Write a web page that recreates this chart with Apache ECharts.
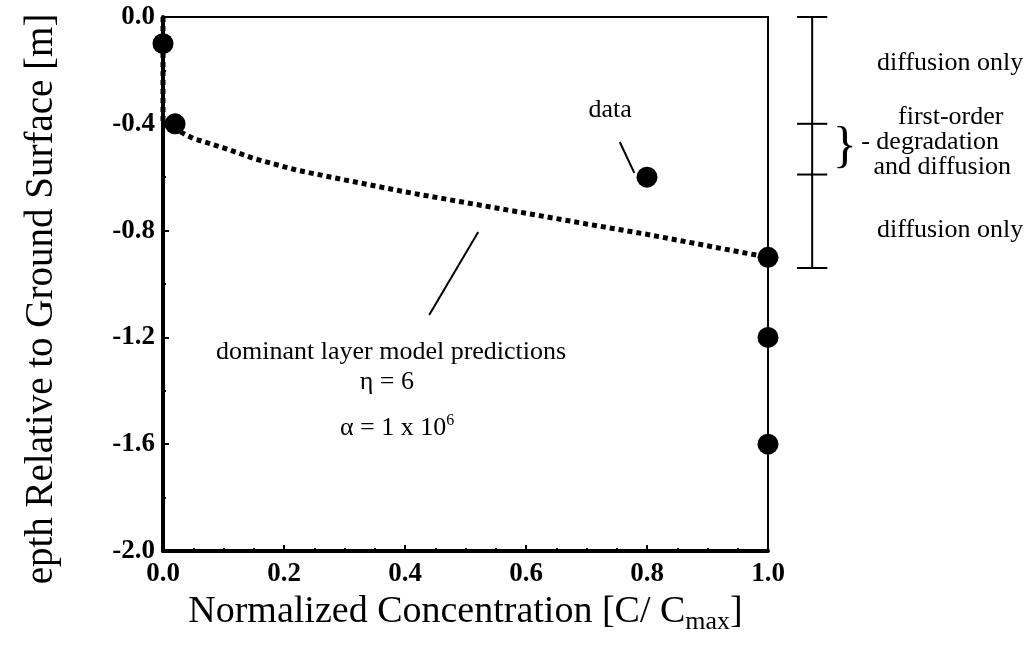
<!DOCTYPE html>
<html>
<head>
<meta charset="utf-8">
<script src="https://cdn.jsdelivr.net/npm/echarts@6.0.0/dist/echarts.min.js"></script>
<style>
  html, body { margin: 0; padding: 0; background: #fff; }
  #chart { width: 1026px; height: 663px; }
</style>
</head>
<body>
<div id="chart"></div>
<script>
// ---- data ----
const dataX = [0.0, 0.02, 0.8, 1.0, 1.0, 1.0];
const dataY = [-0.1, -0.4, -0.6, -0.9, -1.2, -1.6];

const modelX = [0, 0, 0.02, 0.05, 0.1, 0.15, 0.22, 0.3, 0.4, 0.5, 0.6, 0.7, 0.8, 0.9, 1.0];
const modelY = [0, -0.4, -0.42, -0.455, -0.49, -0.53, -0.573, -0.61, -0.655, -0.695, -0.735, -0.775, -0.814, -0.857, -0.9];

// zone boundaries of the right-hand range bar (depth, m)
const zoneDepths = [0.0, -0.4, -0.59, -0.94];
const zoneLabels = ['diffusion only', 'first-order', '- degradation', 'and diffusion', 'diffusion only'];

const xTicks = [0.0, 0.2, 0.4, 0.6, 0.8, 1.0];
const yTicks = [0.0, -0.4, -0.8, -1.2, -1.6, -2.0];

// ---- annotation anchors (data coordinates) ----
const rangeBarX = 1.073, capHalf = 0.025;
const zoneLabelPos = [[1.301, -0.172], [1.302, -0.375], [1.268, -0.468], [1.288, -0.562], [1.301, -0.798]];
const bracePos = [1.127, -0.49];
const dataLabelPos = [0.739, -0.348];
const dataLeader = [[0.755, -0.468], [0.779, -0.584]];
const modelLeader = [[0.521, -0.805], [0.440, -1.116]];
const modelTextPos = [[0.377, -1.255], [0.370, -1.367], [0.387, -1.539]];

const SERIF = '"Liberation Serif", "DejaVu Serif", serif';

const chart = echarts.init(document.getElementById('chart'), null, { renderer: 'canvas' });

const textStyleBase = { fontFamily: SERIF, fontSize: 26, color: '#000' };

function renderRangeBar(params, api) {
  const d = api.value(1);
  const left = api.coord([rangeBarX - capHalf, d]);
  const right = api.coord([rangeBarX + capHalf, d]);
  const children = [{
    type: 'line',
    shape: { x1: left[0], y1: left[1], x2: right[0], y2: right[1] },
    style: { stroke: '#000', lineWidth: 2 }
  }];
  if (params.dataIndex === 0) {
    const top = api.coord([rangeBarX, zoneDepths[0]]);
    const bottom = api.coord([rangeBarX, zoneDepths[zoneDepths.length - 1]]);
    children.push({
      type: 'line',
      shape: { x1: top[0], y1: top[1], x2: bottom[0], y2: bottom[1] },
      style: { stroke: '#000', lineWidth: 2 }
    });
  }
  return { type: 'group', children };
}

const option = {
  animation: false,
  backgroundColor: '#fff',
  grid: { left: 163, right: 258, top: 17, bottom: 112, show: true, borderColor: '#000', borderWidth: 2 },
  xAxis: {
    type: 'value', min: 0, max: 1, interval: 0.2,
    name: 'Normalized Concentration [C/ C{sub|max}]',
    nameLocation: 'middle', nameGap: 28,
    nameTextStyle: {
      fontFamily: SERIF, fontSize: 38, color: '#000',
      rich: { sub: { fontFamily: SERIF, fontSize: 26, color: '#000', padding: [20, 0, 0, 0] } }
    },
    axisLine: { show: true, onZero: false, lineStyle: { color: '#000', width: 4 } },
    axisTick: { show: true, inside: true, length: 6, lineStyle: { color: '#000', width: 2 } },
    minorTick: { show: true, splitNumber: 4, length: 3, lineStyle: { color: '#000', width: 2 } },
    splitLine: { show: false },
    axisLabel: {
      fontFamily: SERIF, fontSize: 27, fontWeight: 'bold', color: '#000', margin: 10,
      formatter: v => xTicks.some(t => Math.abs(t - v) < 1e-9) ? v.toFixed(1) : ''
    }
  },
  yAxis: {
    type: 'value', min: -2, max: 0, interval: 0.4,
    name: 'epth Relative to Ground Surface [m]',
    nameLocation: 'middle', nameGap: 102, nameRotate: 90,
    nameTextStyle: { fontFamily: SERIF, fontSize: 39, color: '#000', padding: [0, 30, 0, 0] },
    axisLine: { show: true, onZero: false, lineStyle: { color: '#000', width: 4 } },
    axisTick: { show: true, inside: true, length: 6, lineStyle: { color: '#000', width: 2 } },
    minorTick: { show: true, splitNumber: 2, length: 3, lineStyle: { color: '#000', width: 2 } },
    splitLine: { show: false },
    axisLabel: {
      fontFamily: SERIF, fontSize: 27, fontWeight: 'bold', color: '#000', margin: 8,
      formatter: v => yTicks.some(t => Math.abs(t - v) < 1e-9) ? v.toFixed(1) : ''
    }
  },
  series: [
    {
      name: 'model', type: 'line', symbol: 'none', clip: false,
      lineStyle: { color: '#000', width: 5, type: [5, 4] },
      data: modelX.map((x, i) => [x, modelY[i]]),
      z: 2
    },
    {
      name: 'data', type: 'scatter', symbol: 'circle', symbolSize: 21, clip: false,
      itemStyle: { color: '#000', opacity: 1 },
      data: dataX.map((x, i) => [x, dataY[i]]),
      z: 3
    },
    {
      name: 'range bar', type: 'custom', clip: false, silent: true,
      renderItem: renderRangeBar,
      encode: { x: 0, y: 1 },
      data: zoneDepths.map(d => [rangeBarX, d])
    },
    {
      name: 'data leader', type: 'line', clip: false, silent: true, symbol: 'none',
      lineStyle: { color: '#000', width: 2 }, data: dataLeader
    },
    {
      name: 'model leader', type: 'line', clip: false, silent: true, symbol: 'none',
      lineStyle: { color: '#000', width: 2 }, data: modelLeader
    },
    {
      name: 'annotations', type: 'scatter', symbolSize: 0, clip: false, silent: true,
      itemStyle: { color: '#000', opacity: 1 },
      label: {
        show: true, position: 'inside', formatter: '{b}', ...textStyleBase,
        rich: {
          sup: { fontFamily: SERIF, fontSize: 16, color: '#000', padding: [0, 0, 14, 0] }
        }
      },
      data: [
        ...zoneLabels.map((t, i) => ({ name: t, value: zoneLabelPos[i] })),
        { name: 'data', value: dataLabelPos },
        { name: 'dominant layer model predictions', value: modelTextPos[0] },
        { name: 'η = 6', value: modelTextPos[1] },
        { name: 'α = 1 x 10{sup|6}', value: modelTextPos[2] },
        { name: '}', value: bracePos, label: { fontSize: 50 } }
      ]
    }
  ]
};

chart.setOption(option);
</script>
</body>
</html>
